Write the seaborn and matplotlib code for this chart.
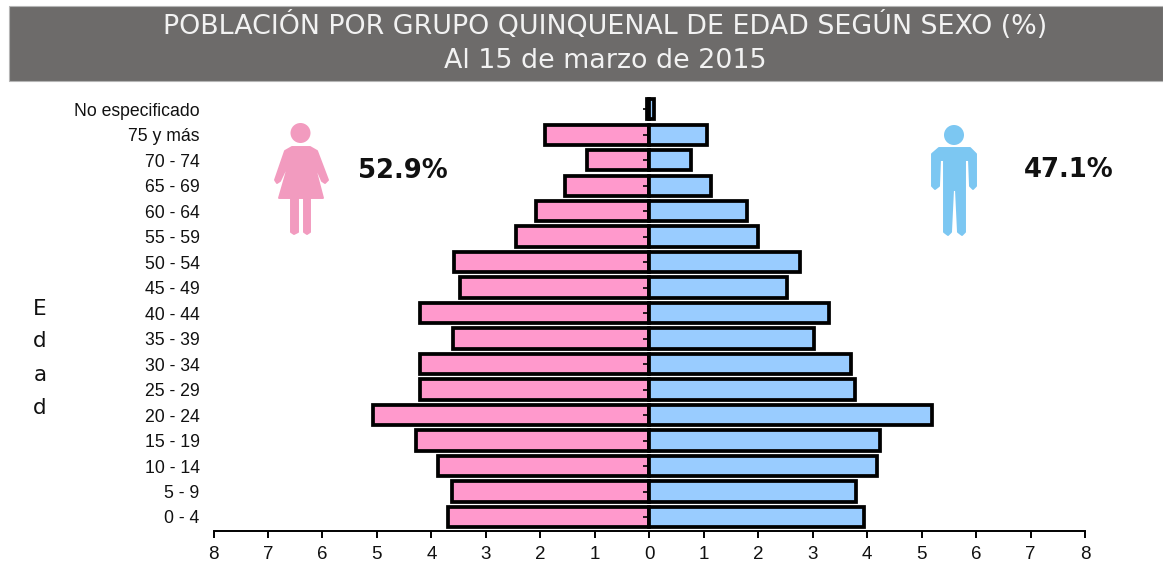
import numpy as np
import pandas as pd
import matplotlib
matplotlib.use("Agg")
import matplotlib.pyplot as plt
from matplotlib.patches import Circle, Polygon, Rectangle
from matplotlib.transforms import Affine2D
import seaborn as sns

groups = ["No especificado", "75 y más", "70 - 74", "65 - 69", "60 - 64", "55 - 59",
          "50 - 54", "45 - 49", "40 - 44", "35 - 39", "30 - 34", "25 - 29",
          "20 - 24", "15 - 19", "10 - 14", "5 - 9", "0 - 4"]
mujeres = [0.05, 1.92, 1.15, 1.55, 2.07, 2.45, 3.58, 3.47, 4.20, 3.60, 4.20, 4.20,
           5.08, 4.28, 3.87, 3.63, 3.70]
hombres = [0.08, 1.06, 0.77, 1.14, 1.80, 2.00, 2.77, 2.53, 3.30, 3.02, 3.70, 3.78,
           5.20, 4.24, 4.18, 3.80, 3.94]
x_ticks = [-8, -7, -6, -5, -4, -3, -2, -1, 0, 1, 2, 3, 4, 5, 6, 7, 8]
titulo = ["POBLACIÓN POR GRUPO QUINQUENAL DE EDAD SEGÚN SEXO (%)", "Al 15 de marzo de 2015"]
pct_mujeres = "52.9%"
pct_hombres = "47.1%"

W, H = 1163, 565
sns.set_theme(style="white")
plt.rcParams["font.family"] = ["Liberation Sans", "DejaVu Sans"]
fig = plt.figure(figsize=(W / 100, H / 100), dpi=100)
ax = fig.add_axes([213.5 / W, 1 - 531 / H, (1085 - 213.5) / W, (531 - 96) / H])

df = pd.DataFrame({"grupo": groups, "Mujeres": -np.array(mujeres), "Hombres": hombres})
for col, color in [("Mujeres", "#ff99cc"), ("Hombres", "#99ccff")]:
    sns.barplot(data=df, y="grupo", x=col, order=groups, color=color, saturation=1,
                width=0.8, edgecolor="black", linewidth=2.7, ax=ax, zorder=2)

pos = np.arange(len(groups))
ax.plot(np.zeros(len(groups)), pos, linestyle="none", marker=0, markersize=4,
        markeredgewidth=1.2, color="black", zorder=4)
ax.set_xlim(-8, 8)
ax.set_ylim(16.55, -0.52)
ax.set_xlabel("")
ax.set_ylabel("")
ax.set_xticks(x_ticks)
ax.set_xticklabels([str(abs(v)) for v in x_ticks], fontsize=13.5, color="#111111")
ax.set_yticks(pos)
ax.set_yticklabels(groups, fontsize=12.7, color="#111111")
ax.tick_params(axis="y", left=False, pad=4)
ax.tick_params(axis="x", bottom=True, length=5, width=1.4, color="black", pad=6)
for side in ["top", "right", "left"]:
    ax.spines[side].set_visible(False)
ax.spines["bottom"].set_color("black")
ax.spines["bottom"].set_linewidth(1.4)

# Pixel coordinates for decoration outside the data
px = Affine2D().scale(1 / W, -1 / H).translate(0, 1) + fig.transFigure

fig.add_artist(Rectangle((9, 6), W - 9, 75, transform=px, facecolor="#6d6b6a",
                         edgecolor="#b5b5b5", linewidth=0.8, zorder=0))
fig.text(605 / W, 1 - 26 / H, titulo[0], ha="center", va="center", fontsize=19.4,
         family="DejaVu Sans", color="#f2f2f2")
fig.text(605 / W, 1 - 61 / H, titulo[1], ha="center", va="center", fontsize=19.4,
         family="DejaVu Sans", color="#f2f2f2")

for letter, y in zip("Edad", [309, 341, 375, 408]):
    fig.text(40 / W, 1 - y / H, letter, ha="center", va="center", fontsize=15.5,
             family="DejaVu Sans", color="#111111")

fig.text(358 / W, 1 - 171 / H, pct_mujeres, ha="left", va="center", fontsize=18.6,
         family="DejaVu Sans", fontweight="bold", color="#111111")
fig.text(1024 / W, 1 - 170 / H, pct_hombres, ha="left", va="center", fontsize=18.6,
         family="DejaVu Sans", fontweight="bold", color="#111111")

# Female icon
pink = "#f29bbf"
fig.add_artist(Circle((300.5, 133), 10, transform=px, color=pink, lw=0))
fig.add_artist(Polygon([(292, 147), (310, 147), (317, 151), (328, 180), (325, 183), (322, 181),
                        (313, 160), (323, 198), (310, 198), (310, 232), (307, 234),
                        (304, 232), (304, 198), (298, 198), (298, 232), (294, 234),
                        (291, 232), (291, 198), (279, 198), (290, 160), (280, 181),
                        (277, 183), (275, 180), (285, 151)],
                       closed=True, transform=px, facecolor=pink, edgecolor=pink,
                       linewidth=1.4, joinstyle="round"))
# Male icon
blue = "#7cc7f2"
fig.add_artist(Circle((954, 135), 10, transform=px, color=blue, lw=0))
fig.add_artist(Polygon([(939, 148), (970, 148), (976, 154), (976, 186), (973, 189), (970, 186),
                        (969, 160), (965, 160), (965, 232), (962, 235), (958, 232),
                        (956, 190), (953, 190), (951, 232), (948, 235), (944, 232),
                        (944, 160), (940, 160), (939, 186), (935, 189), (932, 186),
                        (932, 154)],
                       closed=True, transform=px, facecolor=blue, edgecolor=blue,
                       linewidth=1.4, joinstyle="round"))

fig.savefig("out.png", dpi=100, facecolor="white")
